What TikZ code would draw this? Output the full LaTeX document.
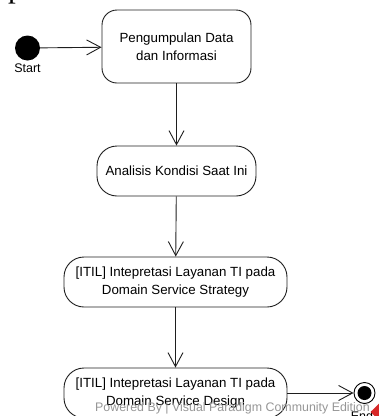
\documentclass[tikz,border=0pt]{standalone}
\usepackage{fontspec}
\setmainfont{Liberation Serif}
\setsansfont{Liberation Sans}
\usepackage{tikz}
\definecolor{vplinie}{RGB}{30, 30, 30}
\definecolor{vpgrau}{RGB}{150, 150, 150}
\definecolor{vprot}{RGB}{215, 40, 40}
\usetikzlibrary{arrows.meta, shapes}

\begin{document}
\begin{tikzpicture}[x=1pt, y=-1pt,
				aktion/.style={draw=vplinie, line width=0.9pt, rounded corners=#1, align=center, inner sep=0pt},
				aktion/.default=18pt,
				>={Straight Barb[length=14pt, width=15pt, line width=0.9pt]},   %offene UML-Pfeilspitzen
				font=\sffamily\fontsize{13.3}{18}\selectfont, scale=1]
				%Bildbereich
				\useasboundingbox (0,0) rectangle (379,416);
				\clip (0,0) rectangle (379,416);
				% Text oberhalb (abgeschnitten)
				\node[anchor=base west, font=\rmfamily\fontsize{31}{31}\selectfont, inner sep=0pt] (absatz) at (8,-2.5) {penelitian.};
				% Start und Ende
				\node[circle, fill=black, minimum size=25pt, inner sep=0pt] (start) at (27.5,48) {};
				\node[font=\sffamily\fontsize{12.5}{14}\selectfont, below=0pt] (startlabel) at (start.south) {Start};
				\node[circle, draw=black, line width=0.9pt, minimum size=21pt, inner sep=0pt] (ende) at (364.5,393) {};
				\node[circle, fill=black, minimum size=14pt, inner sep=0pt] (endepunkt) at (ende) {};
				% Aktionen
				\node[aktion=15pt, minimum width=149pt, minimum height=73pt] (daten) at (176.5,46.5) {Pengumpulan Data\\dan Informasi};
				\node[aktion=20pt, minimum width=159pt, minimum height=50pt] (analisis) at (176.5,171) {Analisis Kondisi Saat Ini};
				\node[aktion=20pt, minimum width=223pt, minimum height=50pt] (strategy) at (175.5,282) {[ITIL] Intepretasi Layanan TI pada\\Domain Service Strategy};
				\node[aktion=20pt, minimum width=223pt, minimum height=50pt] (design) at (175.5,393) {[ITIL] Intepretasi Layanan TI pada\\Domain Service Design};
				% Kontrollfluss
				\draw[->, vplinie, line width=0.9pt] (start) -- (daten);
				\draw[->, vplinie, line width=0.9pt] (daten) -- (analisis);
				\draw[->, vplinie, line width=0.9pt] (analisis) -- (strategy);
				\draw[->, vplinie, line width=0.9pt] (strategy) -- (design);
				\draw[->, vplinie, line width=0.9pt] (design) -- (ende);
				% Beschriftung Ende
				\node[font=\sffamily\fontsize{12.5}{14}\selectfont, anchor=north] (endelabel) at (362,408) {End};
				% Wasserzeichen
				\node[vpgrau, anchor=west, font=\sffamily\fontsize{12.4}{14}\selectfont, inner sep=0pt] (wasserzeichen) at (95,408) {Powered By | Visual Paradigm Community Edition};
				\fill[vprot, rotate around={45:(379,412)}] (373,406) rectangle (385,418);
			\end{tikzpicture}
\end{document}
